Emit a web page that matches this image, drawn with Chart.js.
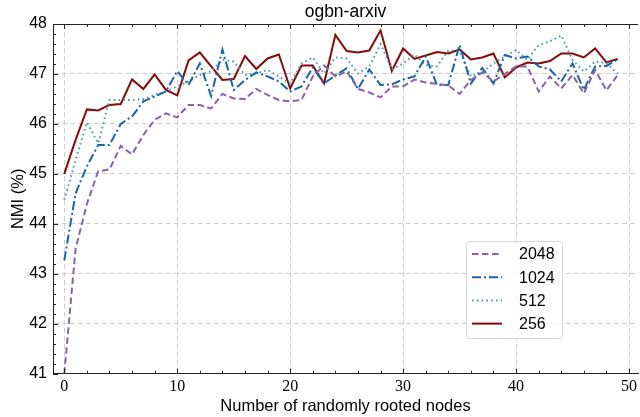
<!DOCTYPE html>
<html>
<head>
<meta charset="utf-8">
<script src="https://cdn.jsdelivr.net/npm/chart.js@4/dist/chart.umd.min.js"></script>
<style>
html,body{margin:0;padding:0;background:#fff;}
#wrap{width:640px;height:417px;}
</style>
</head>
<body>
<div id="wrap"><canvas id="c" width="640" height="417"></canvas></div>
<script>
const chartTitle = "ogbn-arxiv";
const xTitle = "Number of randomly rooted nodes";
const yTitle = "NMI (%)";
const seriesLabels = ["2048", "1024", "512", "256"];
const xValues = Array.from({length: 50}, (_, i) => i);

const nmi2048 = [41.0, 43.5, 44.4, 45.05, 45.09, 45.56, 45.39, 45.78, 46.08, 46.21,
  46.13, 46.38, 46.38, 46.31, 46.6, 46.51, 46.5, 46.7, 46.58, 46.48,
  46.45, 46.48, 46.95, 47.17, 46.95, 47.05, 46.7, 46.63, 46.53, 46.75,
  46.75, 46.89, 46.83, 46.8, 46.77, 46.6, 46.88, 47.03, 46.85, 47.0,
  47.15, 47.15, 46.65, 46.95, 46.71, 46.98, 46.61, 47.08, 46.67, 46.98];
const nmi1024 = [43.27, 44.61, 45.15, 45.58, 45.58, 46.0, 46.15, 46.45, 46.55, 46.65,
  47.06, 46.78, 47.21, 46.56, 47.49, 46.68, 46.88, 47.03, 46.95, 46.85,
  46.65, 46.75, 47.13, 46.81, 46.97, 47.11, 46.7, 47.09, 46.78, 46.79,
  46.89, 46.95, 47.35, 46.78, 46.78, 47.58, 46.81, 47.12, 46.81, 47.38,
  47.31, 47.35, 47.15, 47.09, 46.85, 47.21, 46.68, 47.15, 47.16, 47.29];
const nmi512 = [44.48, 45.28, 46.03, 45.61, 46.48, 46.48, 46.48, 46.5, 46.58, 46.65,
  46.75, 46.85, 46.98, 47.05, 47.29, 47.25, 46.98, 47.01, 47.08, 46.95,
  46.81, 47.21, 47.33, 47.01, 47.33, 47.31, 47.01, 47.15, 47.6, 47.09,
  47.21, 47.39, 47.18, 47.15, 47.47, 47.45, 46.95, 47.03, 47.21, 47.35,
  47.48, 47.28, 47.58, 47.65, 47.77, 47.28, 47.05, 47.25, 47.22, 47.01];
const nmi256 = [45.0, 45.68, 46.29, 46.27, 46.38, 46.4, 46.89, 46.7, 46.99, 46.68,
  46.57, 47.27, 47.43, 47.15, 46.88, 46.9, 47.36, 47.1, 47.31, 47.39,
  46.71, 47.17, 47.17, 46.81, 47.78, 47.46, 47.43, 47.47, 47.87, 47.06,
  47.51, 47.3, 47.37, 47.44, 47.41, 47.49, 47.29, 47.33, 47.41, 46.93,
  47.13, 47.23, 47.21, 47.26, 47.41, 47.41, 47.33, 47.51, 47.23, 47.3];

const seriesValues = [nmi2048, nmi1024, nmi512, nmi256];
const seriesColors = ["#8a63a6", "#1565b0", "#45a0a0", "#880a0a"];
const seriesDash = [[6.5, 3.5], [9, 3, 2, 3], [1.6, 3.2], []];

const SANS = "'Liberation Sans', Arial, sans-serif";
const SERIF = "'Liberation Serif', 'DejaVu Serif', serif";

function toPts(vals) { return vals.map((v, i) => ({x: xValues[i], y: v})); }

const extras = {
  id: 'extras',
  afterDraw(chart) {
    const ctx = chart.ctx;
    const a = chart.chartArea;
    const xs = chart.scales.x, ys = chart.scales.y;
    ctx.save();
    // top spine
    ctx.strokeStyle = '#222';
    ctx.lineWidth = 1;
    ctx.beginPath();
    ctx.moveTo(a.left, a.top + 0.5);
    ctx.lineTo(a.right, a.top + 0.5);
    ctx.stroke();
    // inward ticks
    ctx.beginPath();
    for (let v = 0; v <= 50; v += 2) {
      const px = Math.round(xs.getPixelForValue(v)) + 0.5;
      const len = (v % 10 === 0) ? 5 : 3;
      ctx.moveTo(px, a.bottom); ctx.lineTo(px, a.bottom - len);
      ctx.moveTo(px, a.top); ctx.lineTo(px, a.top + len);
    }
    for (let k = 0; k <= 35; k++) {
      const v = 41 + k * 0.2;
      const py = Math.round(ys.getPixelForValue(v)) + 0.5;
      const len = (k % 5 === 0) ? 5 : 3;
      ctx.moveTo(a.left, py); ctx.lineTo(a.left + len, py);
    }
    ctx.stroke();
    // title
    ctx.fillStyle = '#000';
    ctx.font = "17.5px " + SANS;
    ctx.textAlign = 'center';
    ctx.textBaseline = 'middle';
    ctx.fillText(chartTitle, (a.left + a.right) / 2, 12);
    // legend
    const bx = 466, by = 241, bw = 96, bh = 97;
    ctx.fillStyle = 'rgba(255,255,255,0.85)';
    ctx.strokeStyle = '#d8d8d8';
    ctx.lineWidth = 1;
    ctx.beginPath();
    ctx.roundRect(bx + 0.5, by + 0.5, bw, bh, 3);
    ctx.fill();
    ctx.stroke();
    const ys0 = 254, dy = 23.2;
    chart.data.datasets.forEach((ds, i) => {
      const y = ys0 + i * dy;
      ctx.save();
      ctx.strokeStyle = ds.borderColor;
      ctx.lineWidth = ds.borderWidth;
      ctx.setLineDash(ds.borderDash || []);
      ctx.beginPath();
      ctx.moveTo(472, y); ctx.lineTo(502, y);
      ctx.stroke();
      ctx.restore();
      ctx.fillStyle = '#000';
      ctx.font = "16px " + SANS;
      ctx.textAlign = 'left';
      ctx.textBaseline = 'middle';
      ctx.fillText(ds.label, 519, y + 1);
    });
    ctx.restore();
  }
};

new Chart(document.getElementById('c'), {
  type: 'line',
  data: {
    datasets: seriesLabels.map((lab, i) => ({
      label: lab,
      data: toPts(seriesValues[i]),
      borderColor: seriesColors[i],
      backgroundColor: seriesColors[i],
      borderWidth: 2,
      borderDash: seriesDash[i],
      pointRadius: 0,
      tension: 0,
      fill: false
    }))
  },
  options: {
    responsive: false,
    animation: false,
    devicePixelRatio: 1,
    layout: {padding: {top: 24, right: 0, bottom: 0, left: 0}},
    plugins: {legend: {display: false}, title: {display: false}, tooltip: {enabled: false}},
    scales: {
      x: {
        type: 'linear',
        min: -1,
        max: 50.8,
        afterFit(s) { s.height = 43.3; },
        ticks: {stepSize: 10, includeBounds: false, padding: 3, color: '#000', maxRotation: 0,
                font: {family: SERIF, size: 16}},
        grid: {color: '#cfcfcf', lineWidth: 1, drawTicks: false},
        border: {display: true, color: '#222', width: 1, dash: [5, 3]},
        title: {display: true, text: xTitle, color: '#000', font: {family: SANS, size: 16.5},
                padding: {top: 0, bottom: 1}}
      },
      y: {
        type: 'linear',
        min: 41,
        max: 48,
        afterFit(s) { s.width = 53; },
        ticks: {stepSize: 1, padding: 6, color: '#000', font: {family: SANS, size: 16}},
        grid: {color: '#cfcfcf', lineWidth: 1, drawTicks: false},
        border: {display: true, color: '#222', width: 1, dash: [5, 3]},
        title: {display: true, text: yTitle, color: '#000', font: {family: SANS, size: 16.5},
                padding: {top: 9, bottom: 0}}
      }
    }
  },
  plugins: [extras]
});
</script>
</body>
</html>
